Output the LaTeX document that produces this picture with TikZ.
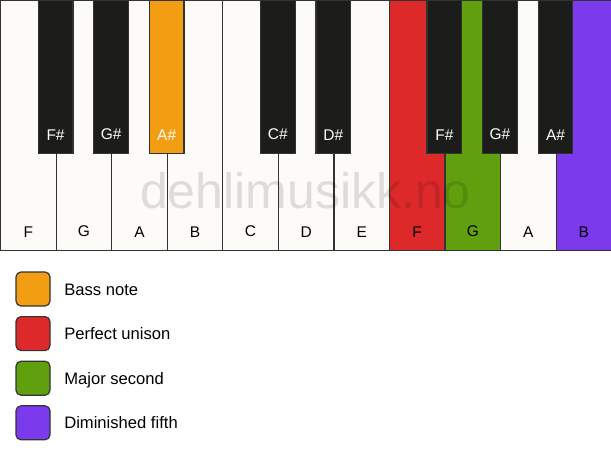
\documentclass[tikz,border=0pt]{standalone}
\usepackage{fontspec}
\setmainfont{Liberation Sans}
\usepackage{xcolor}
\usepackage{tikz}
\usetikzlibrary{positioning}

\definecolor{keywhite}{HTML}{FDFBF7}
\definecolor{keyblack}{HTML}{1C1C1A}
\definecolor{keyline}{HTML}{333333}
\definecolor{bassorange}{HTML}{F39D12}
\definecolor{unisonred}{HTML}{DD2929}
\definecolor{secondgreen}{HTML}{60A00F}
\definecolor{fifthpurple}{HTML}{7C3AED}

\begin{document}
\begin{tikzpicture}[x=1pt, y=-1pt,
    whitekey/.style={draw=keyline, line width=1.2pt, anchor=north west, inner sep=0pt,
        minimum width=55.55pt, minimum height=250pt},
    blackkey/.style={draw=keyline, line width=1.2pt, anchor=north, inner sep=0pt,
        minimum width=34.7pt, minimum height=153pt},
    keyname/.style={inner sep=0pt, font=\fontsize{15.5}{15.5}\selectfont},
    legendbox/.style={draw=keyline, line width=1.2pt, rounded corners=5pt, inner sep=0pt,
        minimum size=34pt},
    legendtext/.style={inner sep=0pt, anchor=west, text height=12pt, text depth=0pt,
        font=\fontsize{16.6}{16.6}\selectfont}]
    \useasboundingbox (0,0) rectangle (611,461);

    % White keys
    \foreach \name/\col [count=\i] in {F/keywhite, G/keywhite, A/keywhite, B/keywhite,
        C/keywhite, D/keywhite, E/keywhite, F/unisonred, G/secondgreen, A/keywhite, B/fifthpurple} {
        \node[whitekey, fill=\col] (w\i) at ({(\i-1)*55.55},0) {};
        \node[keyname, above=14pt of w\i.south] {\name};
    }

    % Watermark
    \node[inner sep=0pt, text=black, opacity=0.12, font=\fontsize{50}{50}\selectfont] (mark) at (305.5,191) {dehlimusikk.no};

    % Black keys
    \foreach \pos/\name/\col in {1/F\#/keyblack, 2/G\#/keyblack, 3/A\#/bassorange,
        5/C\#/keyblack, 6/D\#/keyblack, 8/F\#/keyblack, 9/G\#/keyblack, 10/A\#/keyblack} {
        \node[blackkey, fill=\col] (b\pos) at ({\pos*55.55},0) {};
        \node[keyname, text=white, above=14pt of b\pos.south] {\name};
    }

    % Legend
    \node[legendbox, fill=bassorange] (l1) at (33,289) {};
    \node[legendbox, fill=unisonred, below=9.4pt of l1] (l2) {};
    \node[legendbox, fill=secondgreen, below=9.4pt of l2] (l3) {};
    \node[legendbox, fill=fifthpurple, below=9.4pt of l3] (l4) {};
    \node[legendtext, right=13.5pt of l1] (t1) {Bass note};
    \node[legendtext, right=13.5pt of l2] (t2) {Perfect unison};
    \node[legendtext, right=13.5pt of l3] (t3) {Major second};
    \node[legendtext, right=13.5pt of l4] (t4) {Diminished fifth};
\end{tikzpicture}
\end{document}
